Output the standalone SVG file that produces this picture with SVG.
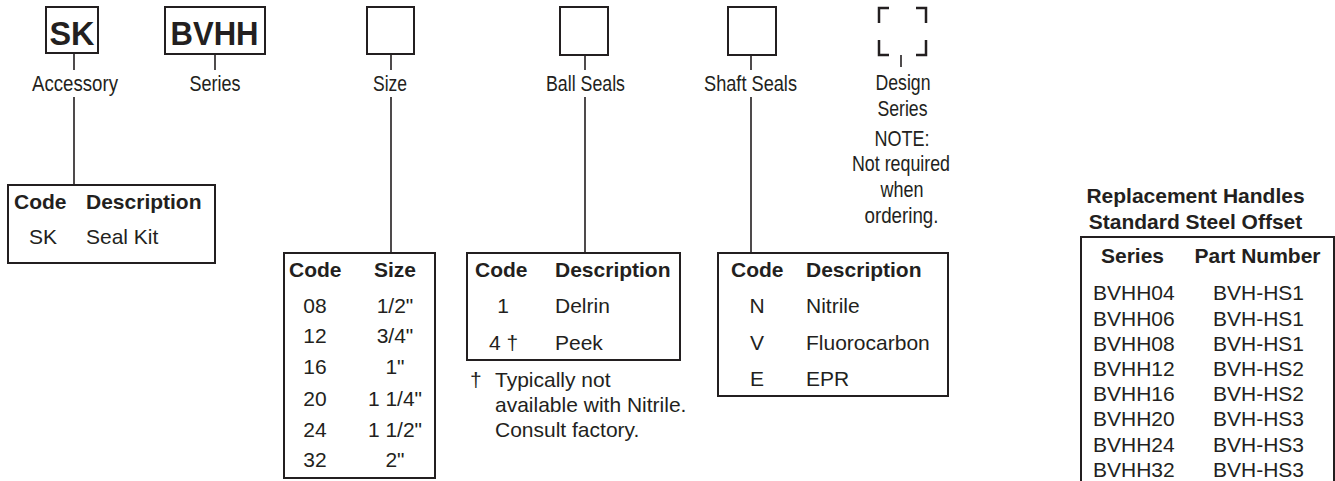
<svg xmlns="http://www.w3.org/2000/svg" width="1335" height="481" viewBox="0 0 1335 481">
<style>
text{font-family:"Liberation Sans",Arial,sans-serif;fill:#231f20}
.lbl{font-size:22px}
.big{font-size:33px;font-weight:bold}
.hd{font-size:21px;font-weight:bold}
.td{font-size:21px}
.mid{text-anchor:middle}
.box{fill:#fff;stroke:#231f20;stroke-width:2}
.tbl{fill:#fff;stroke:#231f20;stroke-width:2}
.ln{fill:none;stroke:#231f20;stroke-width:1.6}
.brk{fill:none;stroke:#231f20;stroke-width:2.5}
</style>
<rect width="1335" height="481" fill="#fff"/>
<g id="connectors">
<path class="ln" d="M74 53V70M74 97V185"/>
<path class="ln" d="M215 54V70"/>
<path class="ln" d="M391 54V70M391 97V253"/>
<path class="ln" d="M585 55V70M585 97V253"/>
<path class="ln" d="M751 55V70M751 97V253"/>
<path class="ln" d="M901 55V67"/>
</g>
<g id="accessory">
<rect class="box" x="46" y="7" width="52" height="46"/>
<text class="big mid" x="72" y="44.5" textLength="45" lengthAdjust="spacingAndGlyphs">SK</text>
<text class="lbl mid" x="75" y="91" textLength="86" lengthAdjust="spacingAndGlyphs">Accessory</text>
</g>
<g id="series">
<rect class="box" x="165" y="7" width="100" height="47"/>
<text class="big mid" x="214.5" y="44.5" textLength="88" lengthAdjust="spacingAndGlyphs">BVHH</text>
<text class="lbl mid" x="215" y="91" textLength="51" lengthAdjust="spacingAndGlyphs">Series</text>
</g>
<g id="size">
<rect class="box" x="367" y="7" width="47" height="47"/>
<text class="lbl mid" x="390" y="91" textLength="34" lengthAdjust="spacingAndGlyphs">Size</text>
</g>
<g id="ball-seals">
<rect class="box" x="560" y="7" width="48" height="48"/>
<text class="lbl mid" x="585.5" y="91" textLength="79" lengthAdjust="spacingAndGlyphs">Ball Seals</text>
</g>
<g id="shaft-seals">
<rect class="box" x="728" y="7" width="48" height="48"/>
<text class="lbl mid" x="750.5" y="91" textLength="93" lengthAdjust="spacingAndGlyphs">Shaft Seals</text>
</g>
<g id="design-series">
<path class="brk" d="M879 23V8H889M916 8H926V23M879 40V55H889M916 55H926V40"/>
<text class="lbl mid" x="903" y="90" textLength="55" lengthAdjust="spacingAndGlyphs">Design</text>
<text class="lbl mid" x="902.5" y="116" textLength="50" lengthAdjust="spacingAndGlyphs">Series</text>
<text class="lbl mid" x="902" y="146" textLength="55" lengthAdjust="spacingAndGlyphs">NOTE:</text>
<text class="lbl mid" x="901" y="171" textLength="98" lengthAdjust="spacingAndGlyphs">Not required</text>
<text class="lbl mid" x="902" y="197" textLength="43" lengthAdjust="spacingAndGlyphs">when</text>
<text class="lbl mid" x="901.5" y="223" textLength="74" lengthAdjust="spacingAndGlyphs">ordering.</text>
</g>
<g id="accessory-table">
<rect class="tbl" x="8" y="185" width="207" height="78"/>
<text class="hd" x="14" y="209">Code</text>
<text class="hd" x="86" y="209">Description</text>
<text class="td" x="29" y="244">SK</text>
<text class="td" x="86" y="244">Seal Kit</text>
</g>
<g id="size-table">
<rect class="tbl" x="284" y="253" width="151" height="225"/>
<text class="hd" x="289" y="277">Code</text>
<text class="hd mid" x="395" y="277">Size</text>
<text class="td mid" x="315" y="313">08</text><text class="td mid" x="395" y="313">1/2"</text>
<text class="td mid" x="315" y="343">12</text><text class="td mid" x="395" y="343">3/4"</text>
<text class="td mid" x="315" y="374">16</text><text class="td mid" x="395" y="374">1"</text>
<text class="td mid" x="315" y="406">20</text><text class="td mid" x="395" y="406">1 1/4"</text>
<text class="td mid" x="315" y="437">24</text><text class="td mid" x="395" y="437">1 1/2"</text>
<text class="td mid" x="315" y="467">32</text><text class="td mid" x="395" y="467">2"</text>
</g>
<g id="ball-seals-table">
<rect class="tbl" x="467" y="253" width="213" height="107"/>
<text class="hd" x="475" y="277">Code</text>
<text class="hd" x="555" y="277">Description</text>
<text class="td mid" x="503" y="313">1</text><text class="td" x="555" y="313">Delrin</text>
<text class="td" x="489" y="350">4 †</text><text class="td" x="555" y="350">Peek</text>
<text class="td" x="470" y="387">†</text>
<text class="td" x="495" y="387">Typically not</text>
<text class="td" x="495" y="412">available with Nitrile.</text>
<text class="td" x="495" y="437">Consult factory.</text>
</g>
<g id="shaft-seals-table">
<rect class="tbl" x="718" y="253" width="230" height="143"/>
<text class="hd" x="731" y="277">Code</text>
<text class="hd" x="806" y="277">Description</text>
<text class="td mid" x="757" y="313">N</text><text class="td" x="806" y="313">Nitrile</text>
<text class="td mid" x="757" y="350">V</text><text class="td" x="806" y="350">Fluorocarbon</text>
<text class="td mid" x="757" y="386">E</text><text class="td" x="806" y="386">EPR</text>
</g>
<g id="replacement-handles">
<text class="hd mid" x="1195.5" y="203">Replacement Handles</text>
<text class="hd mid" x="1195.5" y="229">Standard Steel Offset</text>
<rect class="tbl" x="1081" y="237" width="253" height="260"/>
<text class="hd mid" x="1132.5" y="263">Series</text>
<text class="hd mid" x="1257.5" y="263">Part Number</text>
<g class="td">
<text x="1093" y="300">BVHH04</text><text x="1213" y="300">BVH-HS1</text>
<text x="1093" y="326">BVHH06</text><text x="1213" y="326">BVH-HS1</text>
<text x="1093" y="351">BVHH08</text><text x="1213" y="351">BVH-HS1</text>
<text x="1093" y="376">BVHH12</text><text x="1213" y="376">BVH-HS2</text>
<text x="1093" y="401">BVHH16</text><text x="1213" y="401">BVH-HS2</text>
<text x="1093" y="426">BVHH20</text><text x="1213" y="426">BVH-HS3</text>
<text x="1093" y="452">BVHH24</text><text x="1213" y="452">BVH-HS3</text>
<text x="1093" y="477">BVHH32</text><text x="1213" y="477">BVH-HS3</text>
</g>
</g>
</svg>
